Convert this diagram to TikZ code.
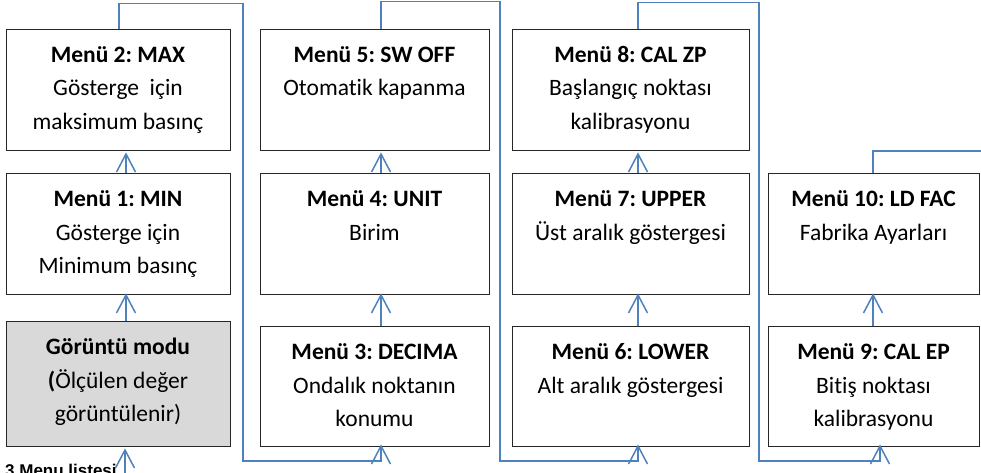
\documentclass[tikz,border=0pt]{standalone}
\usepackage{fontspec}
\setmainfont{Carlito}[Ligatures=CommonOff]
\newfontfamily\capfont{Liberation Sans}
\usetikzlibrary{calc}
\definecolor{lnblue}{HTML}{4F81BD}
\definecolor{boxgray}{HTML}{D9D9D9}
\frenchspacing
\newcommand{\bxt}[3]{\parbox[c][#2][t]{#1}{\centering\frenchspacing\fontsize{23.5}{33.5}\selectfont\rule{0pt}{33.5pt}#3}}
\tikzset{
  menubox/.style={draw=black!85, line width=0.9pt, inner sep=0pt, outer sep=0pt, anchor=north west},
  conn/.style={draw=lnblue, line width=1.5pt},
  vhead/.pic={\draw[conn, line join=miter] (-9.5,18) -- (0,0) -- (9.5,18);},
  captext/.style={anchor=base west, inner sep=0pt, font=\capfont\bfseries\fontsize{17}{20}\selectfont}
}
\begin{document}
\begin{tikzpicture}[x=1pt,y=-1pt]
\useasboundingbox (0,0) rectangle (981,473);
% column 1
\node[menubox] (m2) at (6,29) {\bxt{224pt}{121pt}{\textbf{Menü 2: MAX}\\Gösterge~ için\\maksimum basınç}};
\node[menubox] (m1) at (6,173) {\bxt{224pt}{121pt}{\textbf{Menü 1: MIN}\\Gösterge için\\Minimum basınç}};
\node[menubox, fill=boxgray] (disp) at (6,321) {\bxt{224pt}{125pt}{\textbf{Görüntü modu}\\\textbf{(}Ölçülen değer\\görüntülenir)}};
% column 2
\node[menubox] (m5) at (260,29) {\bxt{229pt}{121pt}{\textbf{Menü 5: SW OFF}\\Otomatik kapanma}};
\node[menubox] (m4) at (260,173) {\bxt{229pt}{121pt}{\textbf{Menü 4: UNIT}\\Birim}};
\node[menubox] (m3) at (260,326) {\bxt{229pt}{120pt}{\textbf{Menü 3: DECIMA}\\Ondalık noktanın\\konumu}};
% column 3
\node[menubox] (m8) at (512,29) {\bxt{237pt}{121pt}{\textbf{Menü 8: CAL ZP}\\Başlangıç noktası\\kalibrasyonu}};
\node[menubox] (m7) at (512,173) {\bxt{237pt}{121pt}{\textbf{Menü 7: UPPER}\\Üst aralık göstergesi}};
\node[menubox] (m6) at (512,326) {\bxt{237pt}{120pt}{\textbf{Menü 6: LOWER}\\Alt aralık göstergesi}};
% column 4
\node[menubox] (m10) at (768,173) {\bxt{211pt}{121pt}{\textbf{Menü 10: LD FAC}\\Fabrika Ayarları}};
\node[menubox] (m9) at (768,326) {\bxt{211pt}{120pt}{\textbf{Menü 9: CAL EP}\\Bitiş noktası\\kalibrasyonu}};
% caption
\node[captext] (cap) at (5,476) {3 Menu listesi};
% routing coordinates
\coordinate (ta) at (243,3.5);
\coordinate (ba) at (243,461);
\coordinate (tb) at (500,1.5);
\coordinate (bb) at (500,461);
\coordinate (tc) at (759,2.5);
\coordinate (bc) at (759,461);
\coordinate (te) at (985,151);
\coordinate (entry) at ($(disp.south)+(7,34)$);
% tip points
\coordinate (h0) at ($(disp.south)+(7,4)$);
\coordinate (h1) at ($(m1.south)+(8,1)$);
\coordinate (h2) at ($(m2.south)+(8,4)$);
\coordinate (h3) at ($(m3.south)+(6.5,0)$);
\coordinate (h4) at ($(m4.south)+(6.5,1)$);
\coordinate (h5) at ($(m5.south)+(6.5,4)$);
\coordinate (h6) at ($(m6.south)+(7.5,0)$);
\coordinate (h7) at ($(m7.south)+(7.5,1)$);
\coordinate (h8) at ($(m8.south)+(7.5,4)$);
\coordinate (h9) at ($(m9.south)+(6.5,0)$);
\coordinate (h10) at ($(m10.south)+(-0.5,1)$);
% arrows within columns
\draw[conn] (entry) -- (h0);
\draw[conn] ($(disp.north)+(8,0)$) -- (h1);
\draw[conn] ($(m1.north)+(8,0)$) -- (h2);
\draw[conn] ($(m3.north)+(6.5,0)$) -- (h4);
\draw[conn] ($(m4.north)+(6.5,0)$) -- (h5);
\draw[conn] ($(m6.north)+(7.5,0)$) -- (h7);
\draw[conn] ($(m7.north)+(7.5,0)$) -- (h8);
\draw[conn] ($(m9.north)+(-0.5,0)$) -- (h10);
% connectors between columns
\draw[conn] ($(m2.north)+(1,0)$) |- (ta) -- (ba) -| (h3);
\draw[conn] ($(m5.north)+(6.5,0)$) |- (tb) -- (bb) -| (h6);
\draw[conn] ($(m8.north)+(7.5,0)$) |- (tc) -- (bc) -| (h9);
\draw[conn] ($(m10.north)+(-0.5,0)$) |- (te);
% arrow heads
\foreach \h in {h0,h1,h2,h3,h4,h5,h6,h7,h8,h9,h10} { \pic at (\h) {vhead}; }
\end{tikzpicture}
\end{document}
